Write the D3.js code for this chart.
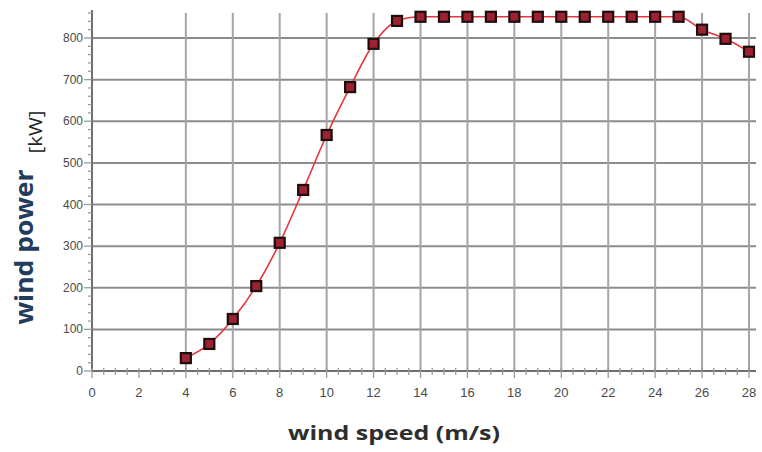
<!DOCTYPE html>
<html>
<head>
<meta charset="utf-8">
<script src="https://cdn.jsdelivr.net/npm/d3@7"></script>
<style>
  html, body { margin: 0; padding: 0; background: #fff; }
  svg { display: block; }
</style>
</head>
<body>
<svg id="chart" width="762" height="452"></svg>
<script>
// Power curve values
const windSpeed = [4, 5, 6, 7, 8, 9, 10, 11, 12, 13, 14, 15, 16, 17, 18, 19, 20, 21, 22, 23, 24, 25, 26, 27, 28];
const windPower = [31, 65, 125, 204, 308, 435, 567, 682, 786, 841, 851, 851, 851, 851, 851, 851, 851, 851, 851, 851, 851, 851, 820, 798, 767];

const xTicks = [0, 2, 4, 6, 8, 10, 12, 14, 16, 18, 20, 22, 24, 26, 28];
const xTickLabels = ['0', '2', '4', '6', '8', '10', '12', '14', '16', '18', '20', '22', '24', '26', '28'];
const xGridTicks = [4, 6, 8, 10, 12, 14, 16, 18, 20, 22, 24, 26, 28];
const yTicks = [0, 100, 200, 300, 400, 500, 600, 700, 800];
const yTickLabels = ['0', '100', '200', '300', '400', '500', '600', '700', '800'];

const svg = d3.select('#chart');

// Scales
const x = d3.scaleLinear().domain([0, 28]).range([92, 749]);
const y = d3.scaleLinear().domain([0, 800]).range([371, 38]);
const yTop = y(867);

// Grid
const grid = svg.append('g');
grid.selectAll('.hgrid')
    .data(yTicks.slice(1))
    .enter().append('line')
    .attr('x1', x(0)).attr('x2', 756)
    .attr('y1', d => y(d)).attr('y2', d => y(d))
    .attr('stroke', '#8c8c8c')
    .attr('stroke-width', 2);

grid.selectAll('.vgrid')
    .data(xGridTicks)
    .enter().append('line')
    .attr('x1', d => x(d)).attr('x2', d => x(d))
    .attr('y1', y(0)).attr('y2', yTop + 3)
    .attr('stroke', '#a5a5a5')
    .attr('stroke-width', 2);

// Axes
const axisColor = '#6e6e6e';
svg.append('line')
    .attr('x1', x(0)).attr('x2', x(0))
    .attr('y1', y(0)).attr('y2', yTop)
    .attr('stroke', axisColor).attr('stroke-width', 2);
svg.append('line')
    .attr('x1', x(0)).attr('x2', 756)
    .attr('y1', y(0)).attr('y2', y(0))
    .attr('stroke', axisColor).attr('stroke-width', 2);

// Minor ticks
const yMinor = d3.range(0, 861, 20);
svg.selectAll('.yminor')
    .data(yMinor)
    .enter().append('line')
    .attr('x1', d => x(0) - (d % 100 === 0 ? 8 : 4)).attr('x2', x(0))
    .attr('y1', d => y(d)).attr('y2', d => y(d))
    .attr('stroke', '#9a9a9a').attr('stroke-width', 1.3);

const xMinor = d3.range(0, 28.01, 0.5);
svg.selectAll('.xminor')
    .data(xMinor)
    .enter().append('line')
    .attr('x1', d => x(d)).attr('x2', d => x(d))
    .attr('y1', d => y(0) - 3).attr('y2', d => y(0) + (d % 2 === 0 ? 7 : 4))
    .attr('stroke', '#9a9a9a').attr('stroke-width', 1.3);

// Tick labels
svg.selectAll('.ylab')
    .data(yTicks)
    .enter().append('text')
    .attr('x', x(0) - 9)
    .attr('y', d => y(d) + 4)
    .attr('text-anchor', 'end')
    .attr('font-family', 'Liberation Sans, Arial, sans-serif')
    .attr('font-size', 12)
    .attr('fill', '#4a4a4a')
    .text((d, i) => yTickLabels[i]);

svg.selectAll('.xlab')
    .data(xTicks)
    .enter().append('text')
    .attr('x', d => x(d))
    .attr('y', 397)
    .attr('text-anchor', 'middle')
    .attr('font-family', 'Liberation Sans, Arial, sans-serif')
    .attr('font-size', 13)
    .attr('fill', '#4a4a4a')
    .text((d, i) => xTickLabels[i]);

// Power curve
const pts = windSpeed.map((s, i) => ({ s, p: windPower[i] }));
const line = d3.line()
    .x(d => x(d.s))
    .y(d => y(d.p))
    .curve(d3.curveMonotoneX);

svg.append('path')
    .datum(pts)
    .attr('d', line)
    .attr('fill', 'none')
    .attr('stroke', '#e8343c')
    .attr('stroke-width', 1.6);

const m = 10;
svg.selectAll('.marker')
    .data(pts)
    .enter().append('rect')
    .attr('x', d => x(d.s) - m / 2)
    .attr('y', d => y(d.p) - m / 2)
    .attr('width', m)
    .attr('height', m)
    .attr('fill', '#9c2232')
    .attr('stroke', '#1e0d0d')
    .attr('stroke-width', 2.2);

// Axis titles
svg.append('text')
    .attr('transform', 'translate(33, 247) rotate(-90)')
    .attr('text-anchor', 'middle')
    .attr('font-family', 'Open Sans, sans-serif')
    .attr('font-weight', 'bold')
    .attr('font-size', 25)
    .attr('textLength', 155)
    .attr('lengthAdjust', 'spacingAndGlyphs')
    .attr('fill', '#243c5c')
    .text('wind power');

svg.append('text')
    .attr('transform', 'translate(42, 132) rotate(-90)')
    .attr('text-anchor', 'middle')
    .attr('font-family', 'Open Sans, sans-serif')
    .attr('font-size', 18)
    .attr('textLength', 43)
    .attr('lengthAdjust', 'spacingAndGlyphs')
    .attr('fill', '#222')
    .text('[kW]');

svg.append('text')
    .attr('x', 394)
    .attr('y', 440)
    .attr('text-anchor', 'middle')
    .attr('font-family', 'Open Sans, sans-serif')
    .attr('font-weight', 'bold')
    .attr('font-size', 20)
    .attr('textLength', 212)
    .attr('lengthAdjust', 'spacingAndGlyphs')
    .attr('fill', '#2e2e2e')
    .text('wind speed (m/s)');
</script>
</body>
</html>
